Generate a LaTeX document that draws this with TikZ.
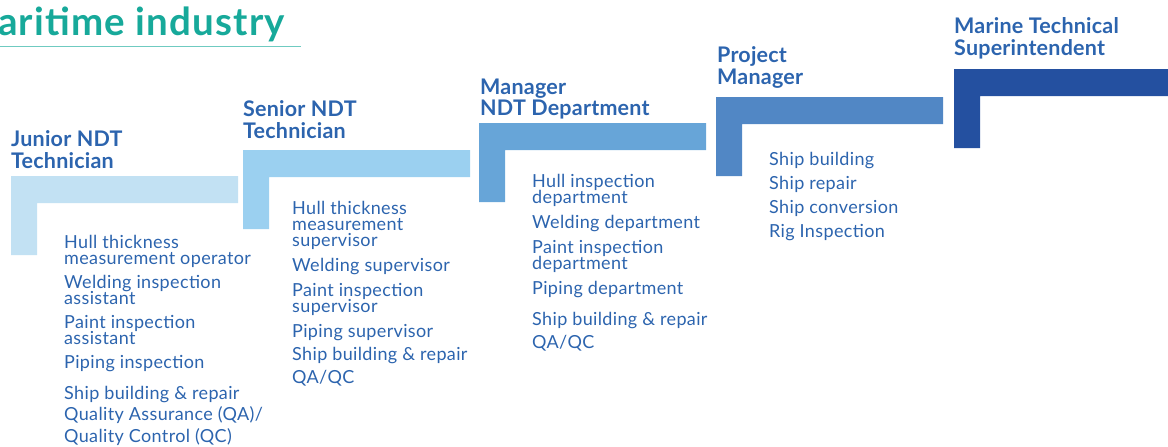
\documentclass[tikz,border=0pt]{standalone}
\usepackage{fontspec}
\setmainfont{Lato}
\setlength{\lineskiplimit}{-20pt}
\definecolor{teal}{HTML}{17A99A}
\definecolor{tealline}{HTML}{6FCBC1}
\definecolor{inkblue}{HTML}{2C64AE}
\definecolor{stepone}{HTML}{C2E1F3}
\definecolor{steptwo}{HTML}{9BD0F0}
\definecolor{stepthree}{HTML}{67A5D8}
\definecolor{stepfour}{HTML}{5187C5}
\definecolor{stepfive}{HTML}{2450A0}
\begin{document}
\begin{tikzpicture}[x=1pt,y=-1pt,
    rank/.style={anchor=base west,inner sep=0pt,align=left,text=inkblue,
      font=\bfseries\fontsize{21.5}{21.5}\selectfont\addfontfeatures{LetterSpace=1}},
    duties/.style={anchor=base west,inner sep=0pt,align=left,text=inkblue,
      font=\fontsize{18}{16}\selectfont\addfontfeatures{LetterSpace=2}}]
  \useasboundingbox (0,0) rectangle (1168,447);
  \clip (0,0) rectangle (1168,447);
  % heading
  \node[anchor=base west,inner sep=0pt,text=teal,
    font=\bfseries\fontsize{38.5}{40}\selectfont\addfontfeatures{LetterSpace=3}]
    (heading) at (-2,35) {aritime industry};
  \draw[tealline,line width=1.2pt] (0,46.7) -- (301,46.7);
  % the steps
  \foreach \l/\t/\r/\c in {11/176/238/stepone,243/150/470/steptwo,
      479/123/706/stepthree,716/97/943/stepfour,954/69/1168/stepfive}
    \fill[\c] (\l,\t) -- (\r,\t) -- (\r,\t+27) -- (\l+26,\t+27)
      -- (\l+26,\t+79) -- (\l,\t+79) -- cycle;
  % ranks (base = last line)
  \node[rank] (junior) at (11,168) {Junior NDT\\Technician};
  \node[rank] (senior) at (243,138) {Senior NDT\\Technician};
  \node[rank] (manager) at (480,115.7) {Manager\\NDT Department};
  \node[rank] (project) at (717,84) {Project\\Manager};
  \node[rank] (marine) at (954,55) {Marine Technical\\Superintendent};
  % what each rank covers
  \node[duties] (juniorjobs) at (64,442) {Hull thickness\\measurement operator\\[8pt]
    Welding inspection\\assistant\\[8pt]Paint inspection\\assistant\\[8pt]
    Piping inspection\\[15pt]Ship building \& repair\\[5pt]
    Quality Assurance (QA)/\\[6pt]Quality Control (QC)};
  \node[duties] (seniorjobs) at (292,383) {Hull thickness\\measurement\\supervisor\\[9pt]
    Welding supervisor\\[9pt]Paint inspection\\supervisor\\[9pt]
    Piping supervisor\\[7pt]Ship building \& repair\\[7pt]QA/QC};
  \node[duties] (managerjobs) at (532,348) {Hull inspection\\department\\[9pt]
    Welding department\\[9pt]Paint inspection\\department\\[9pt]
    Piping department\\[15pt]Ship building \& repair\\[7pt]QA/QC};
  \node[duties] (projectjobs) at (769,237) {Ship building\\[8pt]Ship repair\\[8pt]
    Ship conversion\\[8pt]Rig Inspection};
\end{tikzpicture}
\end{document}
